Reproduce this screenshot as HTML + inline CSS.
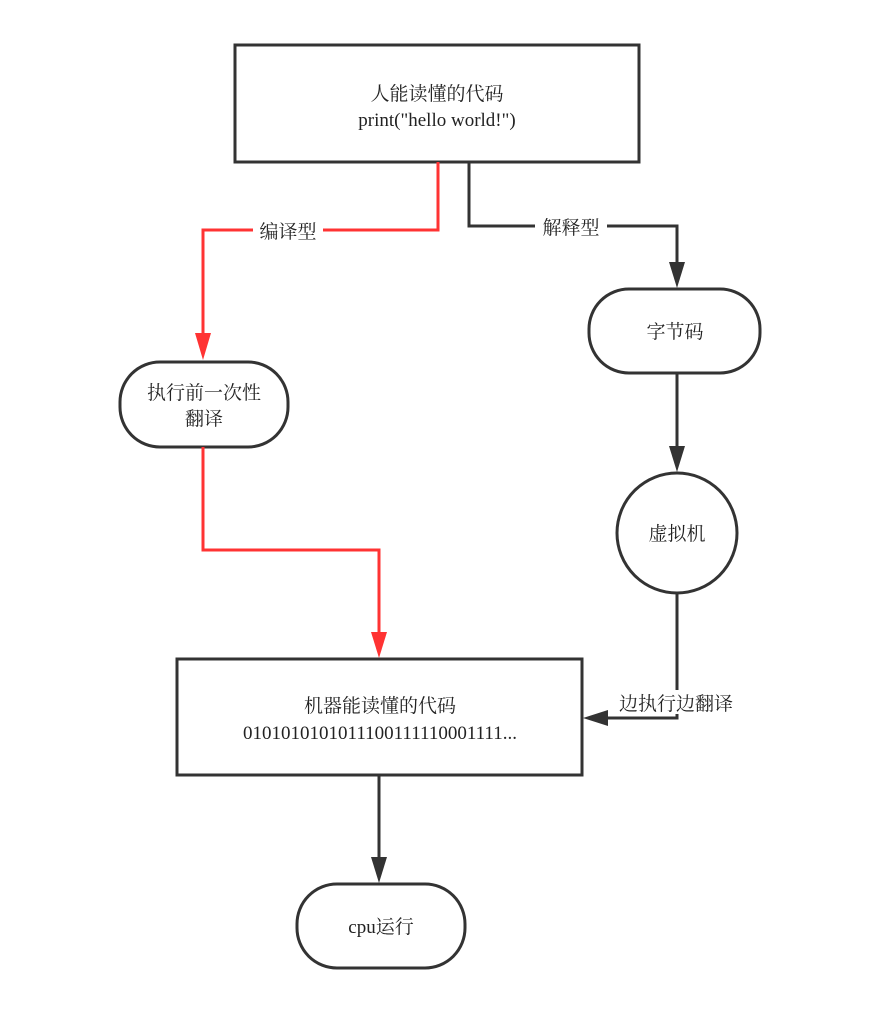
<!DOCTYPE html>
<html><head><meta charset="utf-8"><style>
html,body{margin:0;padding:0;background:#fff;}
svg text{font-family:"Liberation Serif","Noto Serif CJK SC","Noto Sans CJK SC",serif;fill:#222;font-size:19px;}
</style></head><body>
<svg width="883" height="1013" viewBox="0 0 883 1013" xmlns="http://www.w3.org/2000/svg">
<rect width="883" height="1013" fill="#fff"/>
<g fill="none" stroke-width="3">
<rect x="235" y="45" width="404" height="117" stroke="#333"/>
<polyline points="438,162 438,230 203,230 203,345" stroke="#ff3333"/>
<polyline points="469,162 469,226 677,226 677,272" stroke="#333"/>
<rect x="589" y="289" width="171" height="84" rx="40" stroke="#333"/>
<rect x="120" y="362" width="168" height="85" rx="40" stroke="#333"/>
<polyline points="203,447 203,550 379,550 379,642" stroke="#ff3333"/>
<line x1="677" y1="373" x2="677" y2="456" stroke="#333"/>
<circle cx="677" cy="533" r="60" stroke="#333"/>
<polyline points="677,593 677,718 600,718" stroke="#333"/>
<rect x="177" y="659" width="405" height="116" stroke="#333"/>
<line x1="379" y1="775" x2="379" y2="867" stroke="#333"/>
<rect x="297" y="884" width="168" height="84" rx="40" stroke="#333"/>
</g>
<polygon points="195,333 211,333 203,360" fill="#ff3333"/>
<polygon points="371,632 387,632 379,658" fill="#ff3333"/>
<polygon points="669,262 685,262 677,288" fill="#333"/>
<polygon points="669,446 685,446 677,472" fill="#333"/>
<polygon points="608,710 608,726 583,718" fill="#333"/>
<polygon points="371,857 387,857 379,883" fill="#333"/>
<rect x="253" y="219" width="70" height="24" fill="#fff"/>
<rect x="535" y="215" width="72" height="24" fill="#fff"/>
<rect x="608" y="690" width="136" height="24" fill="#fff"/>
<g text-anchor="middle">
<text x="437" y="100">人能读懂的代码</text>
<text x="437" y="126">print("hello world!")</text>
<text x="288" y="238">编译型</text>
<text x="571" y="234">解释型</text>
<text x="675" y="338">字节码</text>
<text x="204" y="399">执行前一次性</text>
<text x="204" y="425">翻译</text>
<text x="677" y="540">虚拟机</text>
<text x="676" y="710">边执行边翻译</text>
<text x="380" y="712">机器能读懂的代码</text>
<text x="380" y="739">0101010101011100111110001111...</text>
<text x="381" y="933">cpu运行</text>
</g>
</svg>
</body></html>
